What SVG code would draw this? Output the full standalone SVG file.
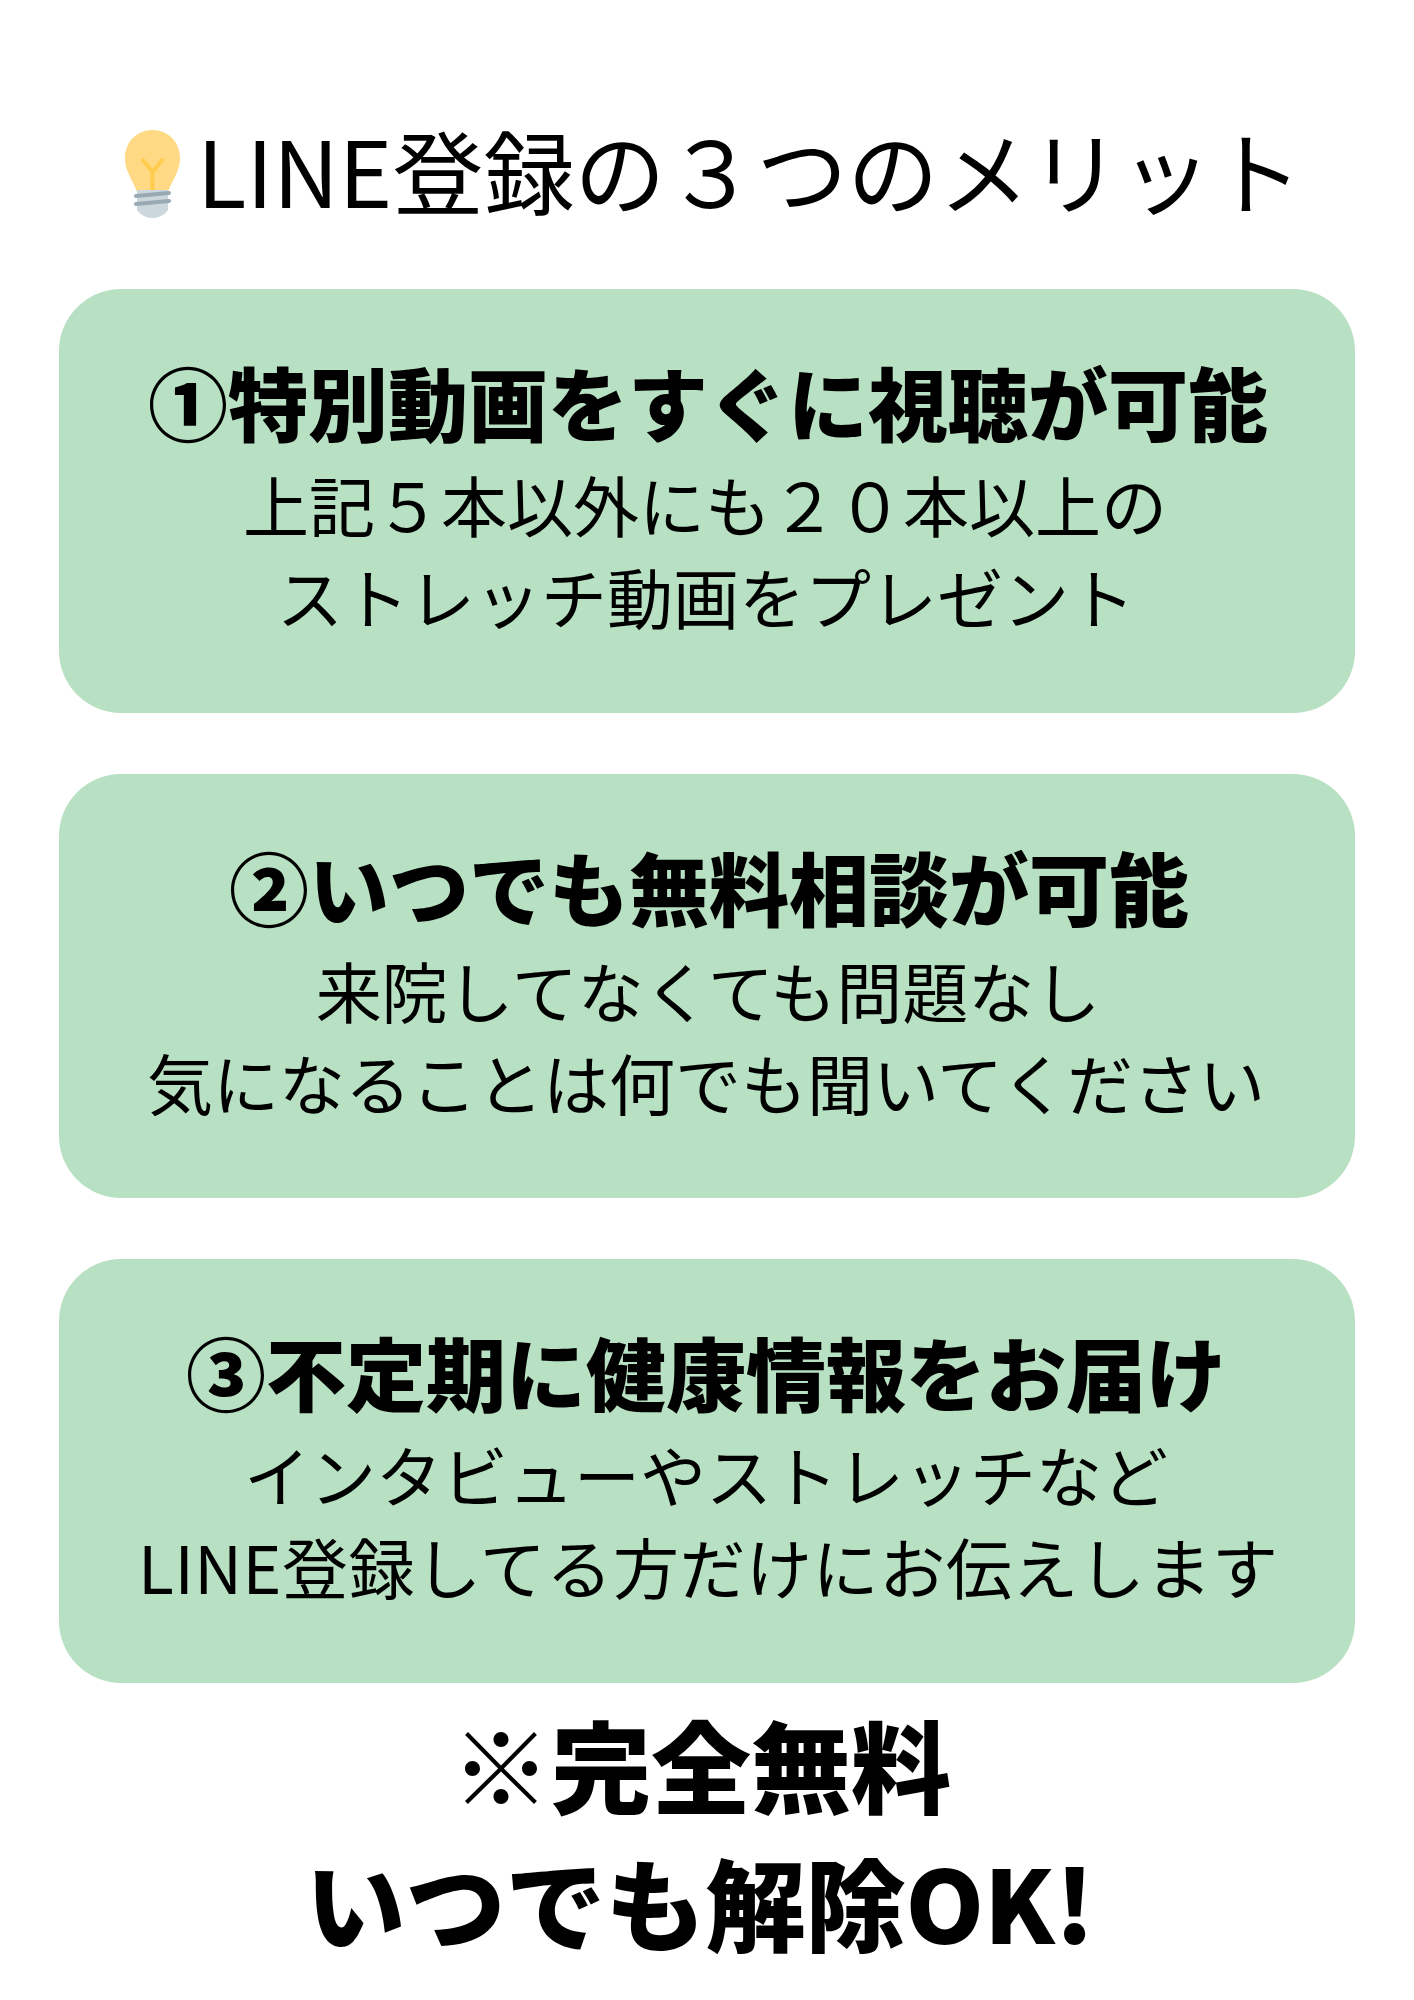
<svg xmlns="http://www.w3.org/2000/svg" width="1414" height="2000" viewBox="0 0 1414 2000">
<style>
.card{fill:#B8E0C2}
.t{font-family:"Noto Sans CJK JP","Noto Sans",sans-serif;fill:#000;text-anchor:middle}
.h{font-size:80px;font-weight:900}
.s{font-size:66px;font-weight:400}
.big{font-size:100px;font-weight:900}
</style>
<rect width="1414" height="2000" fill="#fff"/>
<g id="title">
  <g id="bulb">
    <path d="M152.5 130 C137 130 125 142 125 158 C125 172 133 180 137 192 L168 192 C172 180 180 172 180 158 C180 142 168 130 152.5 130 Z" fill="#FFD983"/>
    <path d="M143 160 L152.5 172 L162 160 M152.5 172 L152.5 192" fill="none" stroke="#FFCC4D" stroke-width="4" stroke-linecap="round"/>
    <path d="M137 190 L168 190 L168 210 C165 214 160 218 152.5 218 C145 218 140 214 137 210 Z" fill="#CCD6DD"/>
    <path d="M136 196 L169 193 M136 204 L169 201" stroke="#99AAB5" stroke-width="4" stroke-linecap="round"/>
  </g>
  <text x="197" y="208" font-family="'Noto Sans CJK JP','Noto Sans',sans-serif" font-size="91" fill="#000">LINE登録の３つのメリット</text>
</g>
<g id="card1">
  <rect class="card" x="59" y="289" width="1296" height="424" rx="62" ry="62"/>
  <text class="t h" x="708" y="435">①特別動画をすぐに視聴が可能</text>
  <text class="t s" x="705" y="532">上記５本以外にも２０本以上の</text>
  <text class="t s" x="706" y="624">ストレッチ動画をプレゼント</text>
</g>
<g id="card2">
  <rect class="card" x="59" y="774" width="1296" height="424" rx="62" ry="62"/>
  <text class="t h" x="709" y="920">②いつでも無料相談が可能</text>
  <text class="t s" x="708" y="1018">来院してなくても問題なし</text>
  <text class="t s" x="706" y="1110">気になることは何でも聞いてください</text>
</g>
<g id="card3">
  <rect class="card" x="59" y="1259" width="1296" height="424" rx="62" ry="62"/>
  <text class="t h" x="706" y="1405">③不定期に健康情報をお届け</text>
  <text class="t s" x="706" y="1502">インタビューやストレッチなど</text>
  <text class="t s" x="708" y="1594" textLength="1140" lengthAdjust="spacing">LINE登録してる方だけにお伝えします</text>
</g>
<g id="footer">
  <text class="t big" x="701" y="1806">※完全無料</text>
  <text class="t big" x="700" y="1944">いつでも解除OK!</text>
</g>
</svg>
